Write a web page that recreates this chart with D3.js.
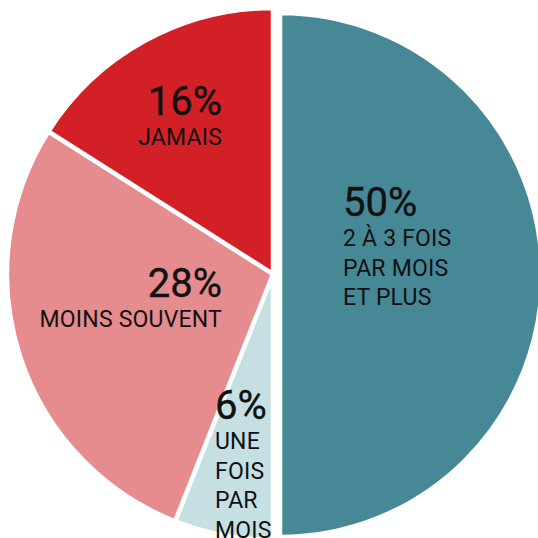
<!DOCTYPE html>
<html>
<head>
<meta charset="utf-8">
<script src="https://cdn.jsdelivr.net/npm/d3@7"></script>
<style>
  html, body { margin: 0; padding: 0; background: #fff; }
  svg { display: block; }
</style>
</head>
<body>
<script>
(function (d3) {
  "use strict";

  /***** Data *****/
  var categories = ["2 À 3 FOIS PAR MOIS ET PLUS", "UNE FOIS PAR MOIS", "MOINS SOUVENT", "JAMAIS"];
  var shares = [50, 6, 28, 16];
  var labelLines = [
    ["2 À 3 FOIS", "PAR MOIS", "ET PLUS"],
    ["UNE", "FOIS", "PAR", "MOIS"],
    ["MOINS SOUVENT"],
    ["JAMAIS"]
  ];

  /***** Configuration *****/
  var width = 538, height = 538;
  var cx = 273, cy = 274, radius = 266;
  var colors = ["#478896", "#c6dfe3", "#e68b8e", "#d32026"];
  // first slice is pulled out a little to the right
  var explode = { index: 0, dx: 7, dy: 1, radius: 262 };
  // label anchor: offset from centre, text-anchor
  var labelPos = [
    { dx: 70, dy: -58, anchor: "start" },
    { dx: -58, dy: 145, anchor: "start" },
    { dx: -51, dy: 23, anchor: "end" },
    { dx: -51, dy: -159, anchor: "end" }
  ];
  var lineStep = 29.8;

  var pie = d3.pie().sort(null).value(function (d) { return d; });
  var arcs = pie(shares);

  var arc = d3.arc().innerRadius(0).outerRadius(radius);
  var arcExploded = d3.arc().innerRadius(0).outerRadius(explode.radius);

  var svg = d3.select("body").append("svg")
      .attr("width", width)
      .attr("height", height);

  var g = svg.append("g")
      .attr("transform", "translate(" + cx + "," + cy + ")");

  /***** Slices *****/
  g.selectAll("path.slice")
    .data(arcs)
    .enter().append("path")
      .attr("class", "slice")
      .attr("d", function (d, i) { return i === explode.index ? arcExploded(d) : arc(d); })
      .attr("transform", function (d, i) {
        return i === explode.index ? "translate(" + explode.dx + "," + explode.dy + ")" : null;
      })
      .attr("fill", function (d, i) { return colors[i]; })
      .attr("stroke", "#fff")
      .attr("stroke-width", 4.5)
      .attr("stroke-linejoin", "miter");

  /***** Labels *****/
  var labels = g.selectAll("g.label")
    .data(arcs)
    .enter().append("g")
      .attr("class", "label")
      .attr("transform", function (d, i) {
        return "translate(" + labelPos[i].dx + "," + labelPos[i].dy + ")";
      })
      .attr("text-anchor", function (d, i) { return labelPos[i].anchor; })
      .style("font-family", "Roboto, 'DejaVu Sans', sans-serif")
      .attr("fill", "#111");

  labels.append("text")
      .attr("font-size", 40)
      .attr("font-weight", 400)
      .attr("stroke", "#111")
      .attr("stroke-width", 0.4)
      .text(function (d) { return d.data + "%"; });

  labels.each(function (d, i) {
    d3.select(this).selectAll("text.line")
      .data(labelLines[i])
      .enter().append("text")
        .attr("class", "line")
        .attr("y", function (t, j) { return (j + 1) * lineStep; })
        .attr("font-size", 23)
        .attr("letter-spacing", 0.2)
        .text(function (t) { return t; });
  });

})(d3);
</script>
</body>
</html>
